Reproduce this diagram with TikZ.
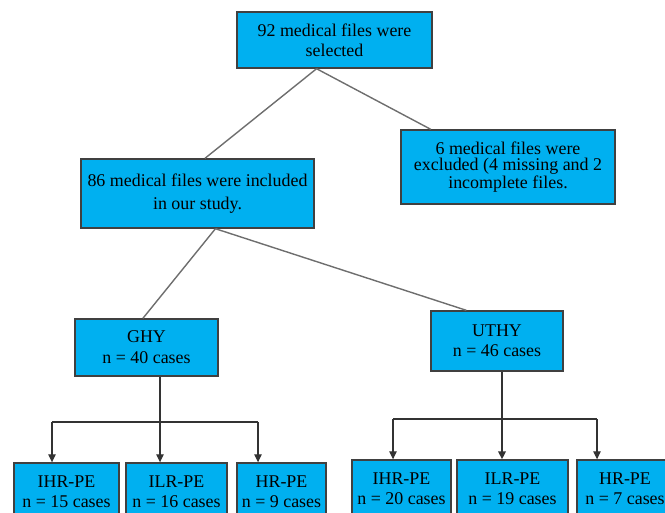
\documentclass[tikz,border=0pt]{standalone}
\usepackage{fontspec}
\setmainfont{Liberation Serif}
\usetikzlibrary{arrows.meta}
\definecolor{boxblue}{RGB}{0,176,240}
\definecolor{edgegray}{RGB}{64,64,64}
\definecolor{linegray}{RGB}{110,110,110}
\tikzstyle{box}=[draw=edgegray,fill=boxblue,line width=0.8pt,inner sep=0pt,align=center,font=\fontsize{10.2}{11.5}\selectfont]
\tikzstyle{link}=[draw=linegray,line width=0.8pt]
\tikzstyle{branch}=[draw=black!80,line width=0.7pt,-{Triangle[length=1.6mm,width=1.5mm]}]

\begin{document}
\begin{tikzpicture}[x=0.02cm,y=-0.02cm]
    \useasboundingbox (0,0) rectangle (665,512);
    \clip (0,0) rectangle (665,512);
    \node[box,minimum width=3.9cm,minimum height=1.12cm] (all) at (334.5,40) {92 medical files were\\selected};
    \node[box,minimum width=4.66cm,minimum height=1.38cm,font=\fontsize{10.2}{13}\selectfont] (incl) at (197.5,193.5) {86 medical files were included\\in our study.};
    \node[box,minimum width=4.28cm,minimum height=1.48cm,font=\fontsize{10.2}{9.3}\selectfont] (excl) at (508,167) {6 medical files were\\excluded (4 missing and 2\\incomplete files.};
    \node[box,minimum width=2.86cm,minimum height=1.14cm,font=\fontsize{10.2}{12}\selectfont] (ghy) at (146.5,347.5) {GHY\\n = 40 cases};
    \node[box,minimum width=2.64cm,minimum height=1.2cm] (uthy) at (497,341) {UTHY\\n = 46 cases};
    \node[box,minimum width=2.1cm,minimum height=1.14cm] (ihrg) at (66.5,491.5) {IHR-PE\\n = 15 cases};
    \node[box,minimum width=2.02cm,minimum height=1.14cm] (ilrg) at (176.5,491.5) {ILR-PE\\n = 16 cases};
    \node[box,minimum width=1.78cm,minimum height=1.14cm] (hrg) at (281.5,491.5) {HR-PE\\n = 9 cases};
    \node[box,minimum width=1.98cm,minimum height=1.14cm] (ihru) at (401.5,488.5) {IHR-PE\\n = 20 cases};
    \node[box,minimum width=2.22cm,minimum height=1.14cm] (ilru) at (512.5,488.5) {ILR-PE\\n = 19 cases};
    \node[box,minimum width=1.92cm,minimum height=1.14cm] (hru) at (625,488.5) {HR-PE\\n = 7 cases};
    \draw[link] (all.238) -- (incl.78);
    \draw[link] (all.238) -- (excl.154);
    \draw[link] (incl.297) -- (ghy.97);
    \draw[link] (incl.297) -- (uthy.135);
    \coordinate (gl) at (52,422);
    \coordinate (gm) at (160,422);
    \coordinate (gr) at (258,422);
    \draw[black!80,line width=0.7pt] (gl) -- (gr);
    \draw[branch] (gm |- ghy.south) -- (gm |- ilrg.north);
    \draw[branch] (gl) -- (gl |- ihrg.north);
    \draw[branch] (gr) -- (gr |- hrg.north);
    \coordinate (ul) at (393,419);
    \coordinate (um) at (502,419);
    \coordinate (ur) at (597,419);
    \draw[black!80,line width=0.7pt] (ul) -- (ur);
    \draw[branch,line width=1pt] (um |- uthy.south) -- (um |- ilru.north);
    \draw[branch] (ul) -- (ul |- ihru.north);
    \draw[branch] (ur) -- (ur |- hru.north);
\end{tikzpicture}
\end{document}
